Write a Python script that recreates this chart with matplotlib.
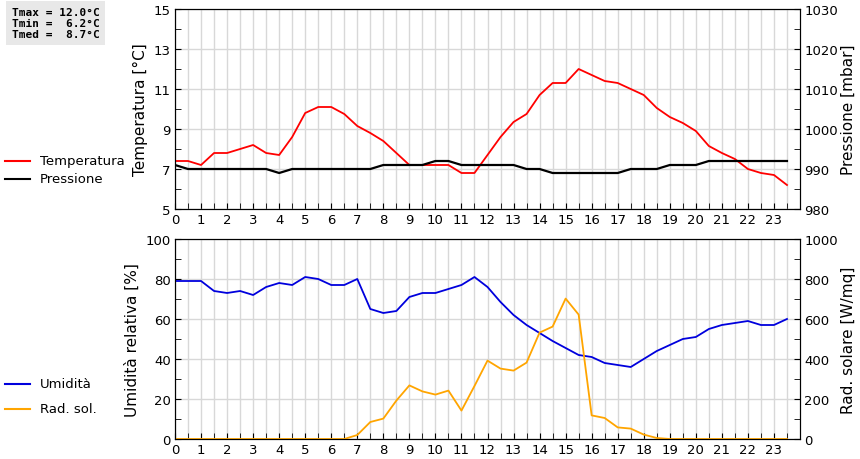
import numpy as np
import matplotlib.pyplot as plt
from matplotlib.lines import Line2D

# half-hour steps
ore = np.arange(0, 24, 0.5)

temperatura = [7.4, 7.4, 7.2, 7.8, 7.8, 8.0, 8.2, 7.8, 7.7, 8.6,
               9.8, 10.1, 10.1, 9.75, 9.15, 8.8, 8.4, 7.8, 7.2, 7.2,
               7.2, 7.2, 6.8, 6.8, 7.7, 8.6, 9.35, 9.75, 10.7, 11.3,
               11.3, 12.0, 11.7, 11.4, 11.3, 11.0, 10.7, 10.05, 9.6, 9.3,
               8.9, 8.15, 7.8, 7.5, 7.0, 6.8, 6.7, 6.2]
pressione = [991, 990, 990, 990, 990, 990, 990, 990, 989, 990,
             990, 990, 990, 990, 990, 990, 991, 991, 991, 991,
             992, 992, 991, 991, 991, 991, 991, 990, 990, 989,
             989, 989, 989, 989, 989, 990, 990, 990, 991, 991,
             991, 992, 992, 992, 992, 992, 992, 992]
umidita = [79, 79, 79, 74, 73, 74, 72, 76, 78, 77,
           81, 80, 77, 77, 80, 65, 63, 64, 71, 73,
           73, 75, 77, 81, 76, 68.5, 62, 57, 53, 49,
           45.5, 42, 41, 38, 37, 36, 40, 44, 47, 50,
           51, 55, 57, 58, 59, 57, 57, 60]
rad_sol = [0, 0, 0, 0, 0, 0, 0, 0, 0, 0,
           0, 0, 0, 0, 20, 85, 102, 192, 268, 238,
           222, 242, 142, 265, 392, 352, 342, 382, 532, 562,
           702, 622, 118, 105, 58, 52, 22, 5, 0, 0,
           0, 0, 0, 0, 0, 0, 0, 0]

fig = plt.figure(figsize=(8.6, 4.6), dpi=100)
W, H = 860, 460
ax1 = fig.add_axes([175 / W, 1 - 210 / H, 625 / W, 200 / H])
ax3 = fig.add_axes([175 / W, 1 - 440 / H, 625 / W, 200 / H])

fs = 9.5
for ax in (ax1, ax3):
    ax.set_xlim(0, 24)
    ax.set_xticks(range(24))
    ax.set_xticks(np.arange(0.5, 24, 1), minor=True)
    ax.grid(True, which='both', axis='x', color='#d8d8d8', lw=1)
    ax.grid(True, which='major', axis='y', color='#d8d8d8', lw=1)
    ax.tick_params(labelsize=fs, direction='in', which='both', length=4, pad=3)
    ax.set_axisbelow(True)

ax1.set_ylim(5, 15)
ax1.set_yticks(range(5, 16, 2))
ax1.set_yticks(range(6, 16, 2), minor=True)
ax1.set_ylabel('Temperatura [°C]', fontsize=11, labelpad=4)
ax1.plot(ore, temperatura, color='red', lw=1.3, zorder=3)
ax2 = ax1.twinx()
ax2.set_ylim(980, 1030)
ax2.set_yticks(range(980, 1031, 10))
ax2.set_yticks(range(985, 1030, 10), minor=True)
ax2.tick_params(labelsize=fs, direction='in', which='both', length=4, pad=3)
ax2.set_ylabel('Pressione [mbar]', fontsize=11, labelpad=2)
ax2.plot(ore, pressione, color='black', lw=1.6, zorder=2)

ax3.set_ylim(0, 100)
ax3.set_yticks(range(0, 101, 20))
ax3.set_yticks(range(10, 100, 20), minor=True)
ax3.set_ylabel('Umidità relativa [%]', fontsize=11, labelpad=4)
ax3.plot(ore, umidita, color='#0000dd', lw=1.3, zorder=3)
ax4 = ax3.twinx()
ax4.set_ylim(0, 1000)
ax4.set_yticks(range(0, 1001, 200))
ax4.set_yticks(range(100, 1000, 200), minor=True)
ax4.tick_params(labelsize=fs, direction='in', which='both', length=4, pad=3)
ax4.set_ylabel('Rad. solare [W/mq]', fontsize=11, labelpad=2)
ax4.plot(ore, rad_sol, color='orange', lw=1.3, zorder=2)

# left legends
for y, col, lab in [(162, 'red', 'Temperatura'), (180, 'black', 'Pressione'),
                    (385, '#0000dd', 'Umidità'), (410, 'orange', 'Rad. sol.')]:
    fig.add_artist(Line2D([5 / W, 30 / W], [1 - y / H, 1 - y / H], color=col, lw=1.5))
    fig.text(40 / W, 1 - y / H, lab, fontsize=fs, va='center')

fig.text(12 / W, 1 - 8 / H, 'Tmax = 12.0°C\nTmin =  6.2°C\nTmed =  8.7°C',
         family='DejaVu Sans Mono', fontsize=8, fontweight='bold', va='top',
         linespacing=1.15,
         bbox=dict(facecolor='#e8e8e8', edgecolor='none', pad=4))

fig.savefig('out.png', dpi=100)
